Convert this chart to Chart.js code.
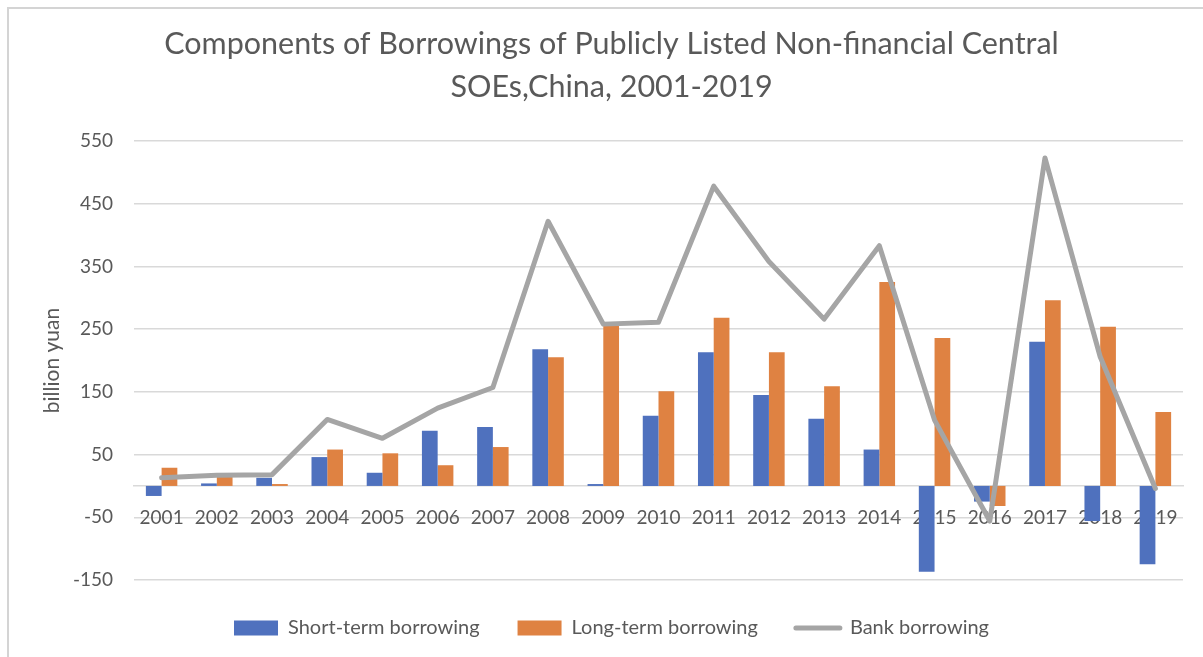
<!DOCTYPE html>
<html>
<head>
<meta charset="utf-8">
<script src="https://cdn.jsdelivr.net/npm/chart.js@4.4.1/dist/chart.umd.min.js"></script>
<style>
  html, body { margin: 0; padding: 0; background: #fff; }
  #wrap { position: relative; width: 1203px; height: 657px; overflow: hidden; }
  #c { position: absolute; left: 0; top: 0; }
  .frameTop { position: absolute; left: 7px; top: 7px; width: 1196px; height: 2px; background: #d4d4d4; }
  .frameLeft { position: absolute; left: 7px; top: 7px; width: 2px; height: 650px; background: #d4d4d4; }
</style>
</head>
<body>
<div id="wrap">
  <canvas id="c" width="1203" height="657"></canvas>
  <div class="frameTop"></div>
  <div class="frameLeft"></div>
</div>
<script>
const years = ['2001','2002','2003','2004','2005','2006','2007','2008','2009','2010',
               '2011','2012','2013','2014','2015','2016','2017','2018','2019'];
const shortTerm = [-16, 4, 13, 46, 21, 88, 94, 218, 3, 112, 213, 145, 107, 58, -137, -25, 230, -56, -125];
const longTerm  = [29, 15, 3, 58, 52, 33, 62, 205, 257, 151, 268, 213, 159, 325, 236, -32, 296, 254, 118];
const bank      = [13, 17, 18, 106, 76, 124, 157, 422, 258, 261, 478, 358, 266, 383, 105, -56, 523, 206, -4];
const yTicks = [-150, -50, 50, 150, 250, 350, 450, 550];
const titleLines = ['Components of Borrowings of Publicly Listed Non-financial Central', 'SOEs,China, 2001-2019'];

const TXT = '#595959';
const GRID = '#d9d9d9';
const FONT = 'Lato';

new Chart(document.getElementById('c'), {
  type: 'bar',
  data: {
    labels: years,
    datasets: [
      { label: 'Short-term borrowing', data: shortTerm, backgroundColor: '#4f71be', order: 2,
        categoryPercentage: 0.57, barPercentage: 1.0 },
      { label: 'Long-term borrowing', data: longTerm, backgroundColor: '#df8242', order: 2,
        categoryPercentage: 0.57, barPercentage: 1.0 },
      { type: 'line', label: 'Bank borrowing', data: bank, borderColor: '#a5a5a5', backgroundColor: '#a5a5a5',
        borderWidth: 5, pointRadius: 0, tension: 0, borderJoinStyle: 'round', borderCapStyle: 'round', order: 0 }
    ]
  },
  options: {
    responsive: false,
    animation: false,
    layout: { padding: { left: 40, right: 20, top: 0, bottom: 9 } },
    plugins: {
      title: {
        display: true,
        text: titleLines,
        color: TXT,
        font: { family: FONT, size: 30.5, weight: 'normal', lineHeight: 43 / 30.5 },
        padding: { top: 23, bottom: 32 }
      },
      legend: {
        position: 'bottom',
        labels: {
          color: TXT,
          font: { family: FONT, size: 20 },
          usePointStyle: true,
          pointStyleWidth: 44,
          boxWidth: 44,
          boxHeight: 15,
          padding: 38,
          generateLabels: (chart) => chart.data.datasets.map((ds, i) => ({
            text: ds.label,
            fillStyle: ds.type === 'line' ? ds.borderColor : ds.backgroundColor,
            strokeStyle: ds.type === 'line' ? ds.borderColor : ds.backgroundColor,
            lineWidth: ds.type === 'line' ? 5 : 0,
            lineCap: 'round',
            pointStyle: ds.type === 'line' ? 'line' : 'rect',
            fontColor: TXT,
            datasetIndex: i,
            hidden: false
          }))
        }
      },
      tooltip: { enabled: false }
    },
    scales: {
      x: {
        position: { y: 0 },
        grid: { display: false },
        border: { display: true, color: GRID, width: 1.5 },
        ticks: { color: TXT, font: { family: FONT, size: 19 }, padding: 13, maxRotation: 0, autoSkip: false }
      },
      y: {
        min: -150,
        max: 550,
        afterBuildTicks: (scale) => { scale.ticks = yTicks.map(v => ({ value: v })); },
        afterFit: (scale) => { scale.width = 94; },
        grid: { color: GRID, lineWidth: 1.5, drawTicks: false },
        border: { display: false },
        ticks: { color: TXT, font: { family: FONT, size: 19 }, padding: 21 },
        title: {
          display: true,
          text: 'billion yuan',
          color: TXT,
          font: { family: FONT, size: 21 },
          padding: { top: 0, bottom: 0 }
        }
      }
    }
  }
});
</script>
</body>
</html>
